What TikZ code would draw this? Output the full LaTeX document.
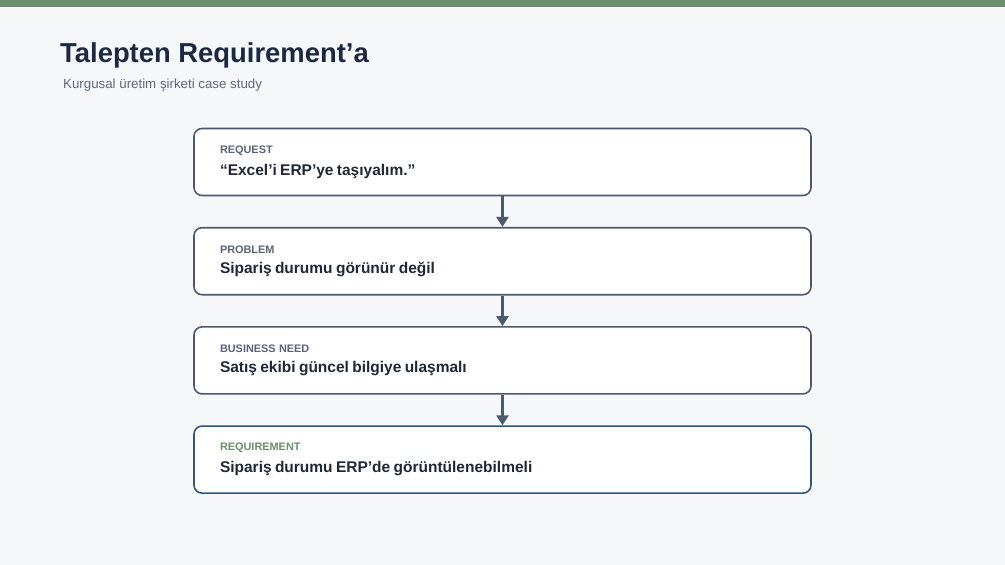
\documentclass[tikz,border=0pt]{standalone}
\usepackage{fontspec}
\setmainfont{Liberation Sans}
\usepackage{tikz}
\usetikzlibrary{positioning,arrows.meta}
\definecolor{bgpage}{HTML}{F6F7F9}
\definecolor{topbar}{HTML}{6E8F6E}
\definecolor{navy}{HTML}{1B2A42}
\definecolor{subgray}{HTML}{5C6B80}
\definecolor{slate}{HTML}{4B5A6E}
\definecolor{labgray}{HTML}{5A6478}
\definecolor{textdark}{HTML}{1F2836}
\definecolor{reqgreen}{HTML}{6A8F6A}
\definecolor{reqblue}{HTML}{2F5580}
\newcommand{\boxlabel}[2]{{\fontsize{10.9}{13}\selectfont\color{#1}\textbf{#2}}\\[8pt]}
\newcommand{\boxtext}[1]{{\fontsize{15.5}{19}\selectfont\color{textdark}\textbf{#1}}}
\tikzset{
  stage/.style={
  rectangle,
  rounded corners=8pt,
  draw=slate,
  line width=1.6pt,
  fill=white,
  minimum width=617pt,
  minimum height=67pt,
  text width=565pt,
  inner xsep=26pt,
  align=left
  },
  laststage/.style={stage,draw=reqblue},
  flow/.style={draw=slate,line width=2.6pt,-{Triangle[width=12pt,length=10pt]}},
  node distance=30.6pt
}
\begin{document}
\begin{tikzpicture}[x=1pt,y=-1pt]
  \fill [bgpage] (0,0) rectangle (1005,565);
  \useasboundingbox (0,0) rectangle (1005,565);
  \fill [topbar] (0,0) rectangle (1005,7);

  \node [anchor=base west,inner sep=0pt,text=navy] (title) at (60,62)
        {\fontsize{27.4}{32}\selectfont\textbf{Talepten Requirement’a}};
  \node [anchor=base west,inner sep=0pt,text=subgray] (subtitle) at (63,88)
        {\fontsize{13.3}{16}\selectfont Kurgusal üretim şirketi case study};

  \node [stage] (request) at (502.5,162)
        {\boxlabel{labgray}{REQUEST}\boxtext{“Excel’i ERP’ye taşıyalım.”}};
  \node [stage,below=of request] (problem)
        {\boxlabel{labgray}{PROBLEM}\boxtext{Sipariş durumu görünür değil}};
  \node [stage,below=of problem] (need)
        {\boxlabel{labgray}{BUSINESS NEED}\boxtext{Satış ekibi güncel bilgiye ulaşmalı}};
  \node [laststage,below=of need] (requirement)
        {\boxlabel{reqgreen}{REQUIREMENT}\boxtext{Sipariş durumu ERP’de görüntülenebilmeli}};

  \draw [flow] (request) -- (problem);
  \draw [flow] (problem) -- (need);
  \draw [flow] (need) -- (requirement);
\end{tikzpicture}
\end{document}
